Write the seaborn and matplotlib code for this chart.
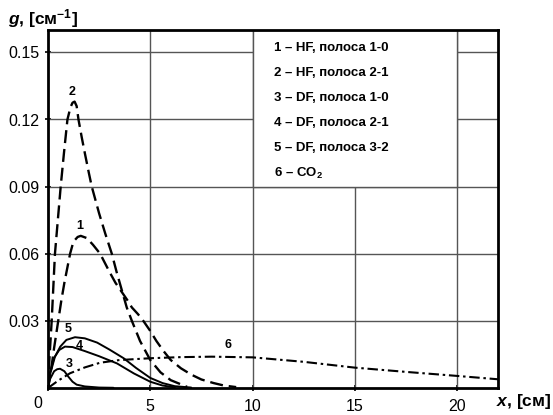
import matplotlib
matplotlib.use("Agg")
import matplotlib.pyplot as plt
import matplotlib.patches as mpatches
import seaborn as sns
import pandas as pd

# ---- data ----
x1 = [0, 0.15, 0.3, 0.5, 0.65, 0.8, 1.08, 1.2, 1.3, 1.45, 1.6, 1.9, 2.2, 2.55, 3.0, 3.3, 3.6, 3.9,
      4.1, 4.4, 4.66, 5.0, 5.3, 5.65, 6.0, 6.5, 7.0, 7.5, 8.1, 8.6, 9.2]
y1 = [0, 0.008, 0.018, 0.03, 0.039, 0.047, 0.06, 0.064, 0.066, 0.0675, 0.068, 0.067, 0.064, 0.06,
      0.052, 0.047, 0.043, 0.039, 0.036, 0.033, 0.03, 0.0255, 0.021, 0.0165, 0.0125, 0.0088, 0.006,
      0.0038, 0.0022, 0.0011, 0.0004]

x2 = [0, 0.05, 0.18, 0.34, 0.48, 0.62, 0.78, 0.95, 1.1, 1.2, 1.3, 1.4, 1.49, 1.65, 1.8, 2.0, 2.14,
      2.5, 2.8, 3.12, 3.35, 3.6, 3.85, 4.1, 4.5, 5.0, 5.5, 6.0, 6.8]
y2 = [0, 0.01, 0.03, 0.06, 0.075, 0.09, 0.105, 0.12, 0.1255, 0.1275, 0.128, 0.126, 0.12, 0.112,
      0.105, 0.096, 0.09, 0.078, 0.069, 0.06, 0.052, 0.044, 0.036, 0.03, 0.021, 0.0125, 0.007,
      0.0035, 0.0005]

x3 = [0, 0.1, 0.3, 0.45, 0.59, 0.8, 1.0, 1.2, 1.4, 1.8, 2.5, 3.2]
y3 = [0, 0.004, 0.0075, 0.0084, 0.0086, 0.0075, 0.005, 0.0028, 0.0015, 0.0007, 0.0002, 0.0001]

x4 = [0, 0.1, 0.3, 0.55, 0.83, 1.2, 1.8, 2.5, 3.37, 4.2, 5.0, 5.6, 6.2]
y4 = [0, 0.007, 0.0135, 0.017, 0.0185, 0.0183, 0.0165, 0.0142, 0.011, 0.0065, 0.0028, 0.0011, 0.0003]

x5 = [0, 0.1, 0.34, 0.6, 0.9, 1.32, 1.8, 2.4, 3.0, 3.7, 4.3, 5.0, 5.6, 6.2, 7.0]
y5 = [0, 0.006, 0.014, 0.0185, 0.0215, 0.0227, 0.0222, 0.0203, 0.0172, 0.0133, 0.009, 0.0045,
      0.0022, 0.0008, 0.0002]

x6 = [0, 0.5, 1.08, 1.8, 2.55, 3.5, 5.0, 6.5, 8.0, 10, 12.5, 15, 17.5, 20, 22]
y6 = [0, 0.0033, 0.0066, 0.0092, 0.0113, 0.0125, 0.0133, 0.0138, 0.014, 0.0137, 0.0117, 0.0091,
      0.0072, 0.0054, 0.0039]

legend_lines = ["1 – HF, полоса 1-0", "2 – HF, полоса 2-1", "3 – DF, полоса 1-0",
                "4 – DF, полоса 2-1", "5 – DF, полоса 3-2", r"6 – CO$_{\mathbf{2}}$"]
xticks = [0, 5, 10, 15, 20]
xticklabels = ["", "5", "10", "15", "20"]
yticks = [0.03, 0.06, 0.09, 0.12, 0.15]
yticklabels = ["0.03", "0.06", "0.09", "0.12", "0.15"]

sns.set_theme(style="white")
plt.rcParams['font.family'] = ['Liberation Sans', 'DejaVu Sans']
plt.rcParams['mathtext.fontset'] = 'custom'
plt.rcParams['mathtext.rm'] = 'Liberation Sans:bold'
plt.rcParams['mathtext.bf'] = 'Liberation Sans:bold'
plt.rcParams['mathtext.it'] = 'Liberation Sans:italic:bold'

fig = plt.figure(figsize=(5.53, 4.15), dpi=100)
ax = fig.add_axes([48/553, 27/415, 450/553, 358/415])

gridc = '#555555'
for xv in [5, 10, 15, 20]:
    ax.axvline(xv, color=gridc, lw=1.0, zorder=1)
for yv in yticks:
    ax.axhline(yv, color=gridc, lw=1.0, zorder=1)

ax.add_patch(mpatches.Rectangle((10, 0.09), 10, 0.07, facecolor='white',
                                edgecolor=gridc, lw=1.0, zorder=2))

def draw(xs, ys, dashes, lw):
    df = pd.DataFrame({"x": xs, "y": ys})
    sns.lineplot(data=df, x="x", y="y", ax=ax, color='black', lw=lw,
                 estimator=None, sort=False, zorder=3)
    ln = ax.lines[-1]
    ln.set_solid_joinstyle('round')
    if dashes is not None:
        ln.set_dashes(dashes)

draw(x1, y1, (5.5, 2.5), 1.7)
draw(x2, y2, (5.5, 2.5), 1.7)
draw(x3, y3, None, 1.4)
draw(x4, y4, None, 1.4)
draw(x5, y5, None, 1.4)
draw(x6, y6, (5, 1.8, 1.2, 1.8), 1.5)

ax.set_xlim(0, 22)
ax.set_ylim(0, 0.16)
ax.set_xticks(xticks)
ax.set_xticklabels(xticklabels)
ax.set_yticks(yticks)
ax.set_yticklabels(yticklabels)
ax.set_xlabel("")
ax.set_ylabel("")
ax.tick_params(axis='both', which='both', direction='inout', length=4, width=1.2,
               color='black', labelsize=11.5, labelcolor='black', pad=4,
               bottom=True, left=True)
ax.tick_params(axis='x', pad=6)
for s in ax.spines.values():
    s.set_visible(True)
    s.set_color('black')
    s.set_linewidth(2)
    s.set_zorder(5)

ax.text(-0.012, -0.022, "0", transform=ax.transAxes, ha='right', va='top', fontsize=11.5, color='black')

# curve labels
lab_kw = dict(fontsize=9, fontweight='bold', ha='center', va='center', color='black', zorder=4)
ax.text(1.2, 0.1325, "2", **lab_kw)
ax.text(1.53, 0.0722, "1", **lab_kw)
ax.text(1.0, 0.0263, "5", **lab_kw)
ax.text(1.53, 0.0188, "4", **lab_kw)
ax.text(1.05, 0.0106, "3", **lab_kw)
ax.text(8.8, 0.0193, "6", **lab_kw)

# legend text
y0 = 0.1521
for i, t in enumerate(legend_lines):
    ax.text(11.05, y0 - i * 0.0112, t, fontsize=9.5, fontweight='bold',
            ha='left', va='center', color='black', zorder=4)

fig.text(8/553, 1 - 24/415, r"$g$, [см$^{\mathbf{-1}}$]", fontsize=12.5, fontweight='bold',
         ha='left', va='baseline', color='black')
fig.text(551/553, 9/415, r"$x$, [см]", fontsize=12.5, fontweight='bold',
         ha='right', va='baseline', color='black')

fig.savefig("out.png", dpi=100)
